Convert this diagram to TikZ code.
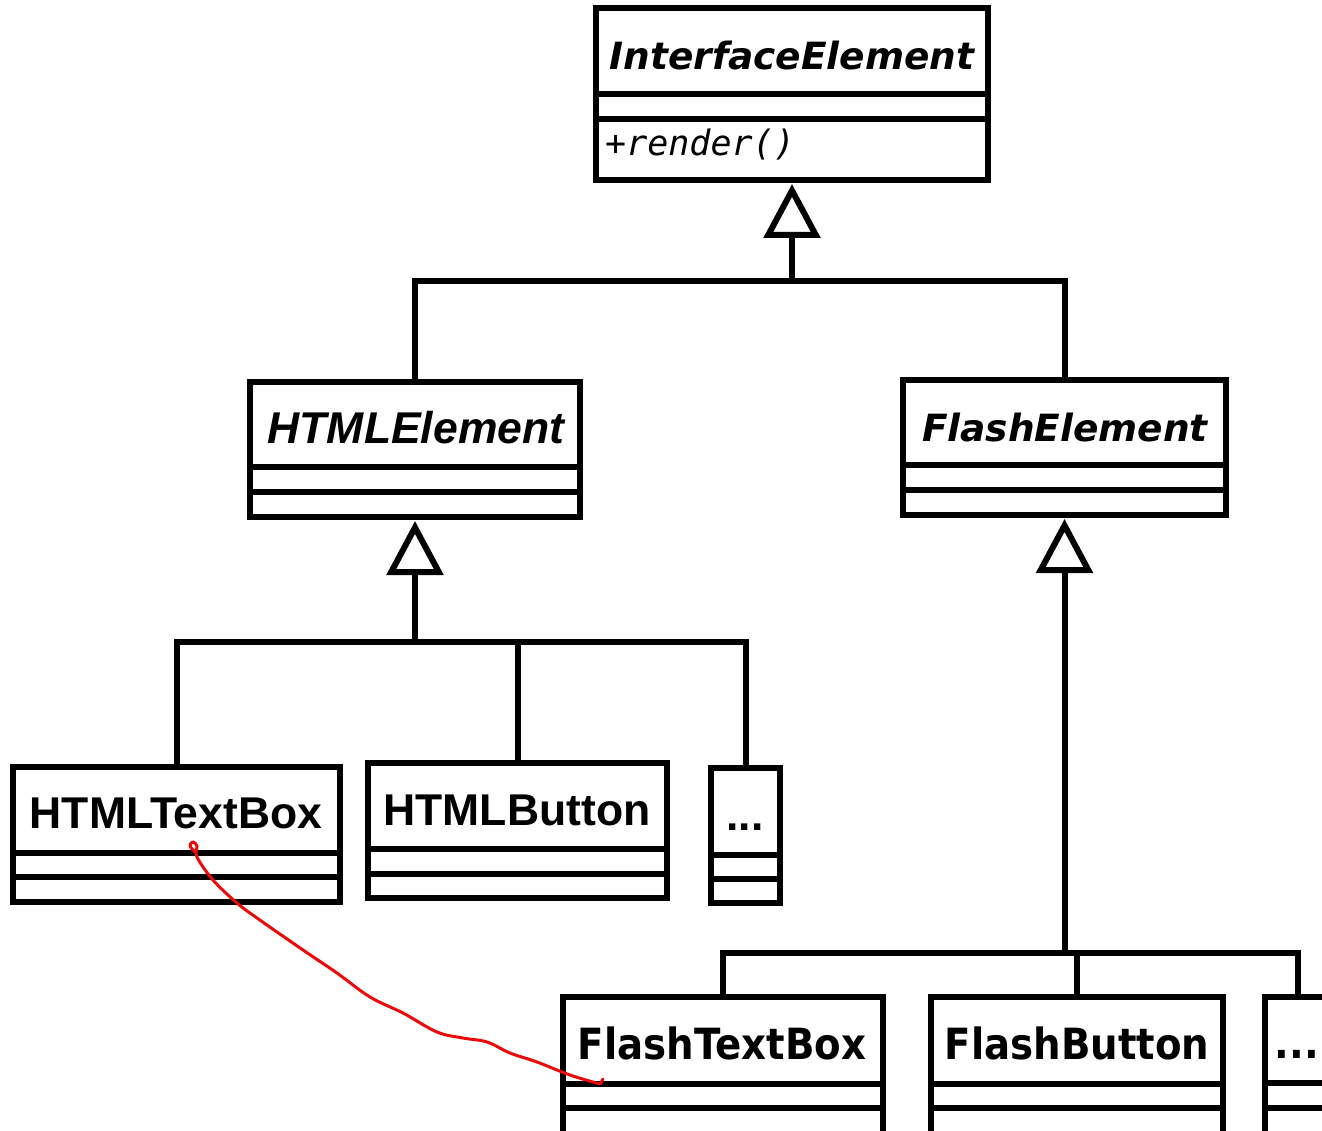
\documentclass[tikz,border=0pt]{standalone}
\usepackage{fontspec}
\usetikzlibrary{arrows.meta,fit}
\newfontfamily\djv{DejaVu Sans}
\newfontfamily\djvc[FakeStretch=0.9]{DejaVu Sans}
\newfontfamily\lib{Liberation Sans}
\newfontfamily\djm{DejaVu Sans Mono}
\definecolor{pen}{RGB}{235,10,10}
\tikzset{
  classbox/.style={draw, line width=6pt, rectangle, inner sep=0pt},
  divider/.style={line width=6pt},
  conn/.style={line width=6pt},
  genarrow/.style={line width=6pt, -{Triangle[open, length=54pt, width=56pt]}, shorten >=1pt},
  absname/.style={font=\fontsize{37.5}{40}\djv\bfseries\itshape, anchor=base, inner sep=0pt},
  htmlabs/.style={font=\fontsize{44.5}{48}\lib\bfseries\itshape, anchor=base, inner sep=0pt},
  htmlname/.style={font=\fontsize{44.5}{47}\lib\bfseries, anchor=base, inner sep=0pt},
  flashname/.style={font=\fontsize{43}{46}\djvc\bfseries, anchor=base, inner sep=0pt},
  opname/.style={font=\fontsize{35}{38}\djm\itshape, anchor=base west, inner sep=0pt},
  scribble/.style={draw=pen, line width=3pt, line cap=round, line join=round}
}
\begin{document}
\begin{tikzpicture}[x=1pt,y=-1pt]
\useasboundingbox (0,0) rectangle (1322,1131);
% class boxes
\node[classbox, fit={(596,8) (988,180)}] (ie) {};
\node[classbox, fit={(250,382) (580,517)}] (html) {};
\node[classbox, fit={(903,380) (1226,515)}] (flash) {};
\node[classbox, fit={(13,767) (340,902)}] (htb) {};
\node[classbox, fit={(368,763) (667,898)}] (hbtn) {};
\node[classbox, fit={(711,768) (780,903)}] (hdots) {};
\node[classbox, fit={(563,997) (883,1150)}] (ftb) {};
\node[classbox, fit={(931,997) (1223,1150)}] (fbtn) {};
\node[classbox, fit={(1265,997) (1330,1150)}] (fdots) {};
% dividers
\draw[divider] (ie.west |- 0,94) -- (ie.east |- 0,94);
\draw[divider] (ie.west |- 0,119) -- (ie.east |- 0,119);
\draw[divider] (html.west |- 0,467) -- (html.east |- 0,467);
\draw[divider] (html.west |- 0,492) -- (html.east |- 0,492);
\draw[divider] (flash.west |- 0,465) -- (flash.east |- 0,465);
\draw[divider] (flash.west |- 0,490) -- (flash.east |- 0,490);
\draw[divider] (htb.west |- 0,853) -- (htb.east |- 0,853);
\draw[divider] (htb.west |- 0,877) -- (htb.east |- 0,877);
\draw[divider] (hbtn.west |- 0,849) -- (hbtn.east |- 0,849);
\draw[divider] (hbtn.west |- 0,874) -- (hbtn.east |- 0,874);
\draw[divider] (hdots.west |- 0,855) -- (hdots.east |- 0,855);
\draw[divider] (hdots.west |- 0,879) -- (hdots.east |- 0,879);
\draw[divider] (ftb.west |- 0,1084) -- (ftb.east |- 0,1084);
\draw[divider] (ftb.west |- 0,1108) -- (ftb.east |- 0,1108);
\draw[divider] (fbtn.west |- 0,1084) -- (fbtn.east |- 0,1084);
\draw[divider] (fbtn.west |- 0,1108) -- (fbtn.east |- 0,1108);
\draw[divider] (fdots.west |- 0,1083) -- (fdots.east |- 0,1083);
\draw[divider] (fdots.west |- 0,1108) -- (fdots.east |- 0,1108);
% names
\node[absname] (ieT) at (792,70) {InterfaceElement};
\node[opname] (ieOp) at (605,156) {+render()};
\node[htmlabs] (htmlT) at (416,443) {HTMLElement};
\node[absname] (flashT) at (1065,441) {FlashElement};
\node[htmlname] (htbT) at (176,828) {HTMLTextBox};
\node[htmlname] (hbtnT) at (517,825) {HTMLButton};
\node[htmlname] (hdotsT) at (745,830) {...};
\node[flashname] (ftbT) at (722,1059) {FlashTextBox};
\node[flashname] (fbtnT) at (1077,1059) {FlashButton};
\node[flashname] (fdotsT) at (1297,1058) {...};
% generalisations
\coordinate (j1) at (ie.south |- 0,281);
\draw[genarrow] (j1) -- (ie.south);
\draw[conn] (html.north) |- (j1) -| (flash.north);
\coordinate (j2) at (html.south |- 0,642);
\draw[genarrow] (j2) -- (html.south);
\draw[conn] (htb.north) |- (j2) -| (hdots.north);
\draw[conn] (hbtn.north) -- (hbtn.north |- j2);
\coordinate (j3) at (flash.south |- 0,953);
\draw[genarrow] (j3) -- (flash.south);
\draw[conn] (ftb.north) |- (j3) -| (fdots.north);
\draw[conn] (fbtn.north) -- (fbtn.north |- j3);
% red scribble
\draw[scribble] plot[smooth, tension=0.6] coordinates {(196,853) (190,846) (193,842) (197,846) (197,857) (213,880) (237,903) (257,918) (303,950) (337,973) (370,997) (403,1013) (437,1032) (463,1038) (487,1042) (510,1053) (537,1062) (570,1075) (600,1084)} -- (603,1079);
\end{tikzpicture}
\end{document}
